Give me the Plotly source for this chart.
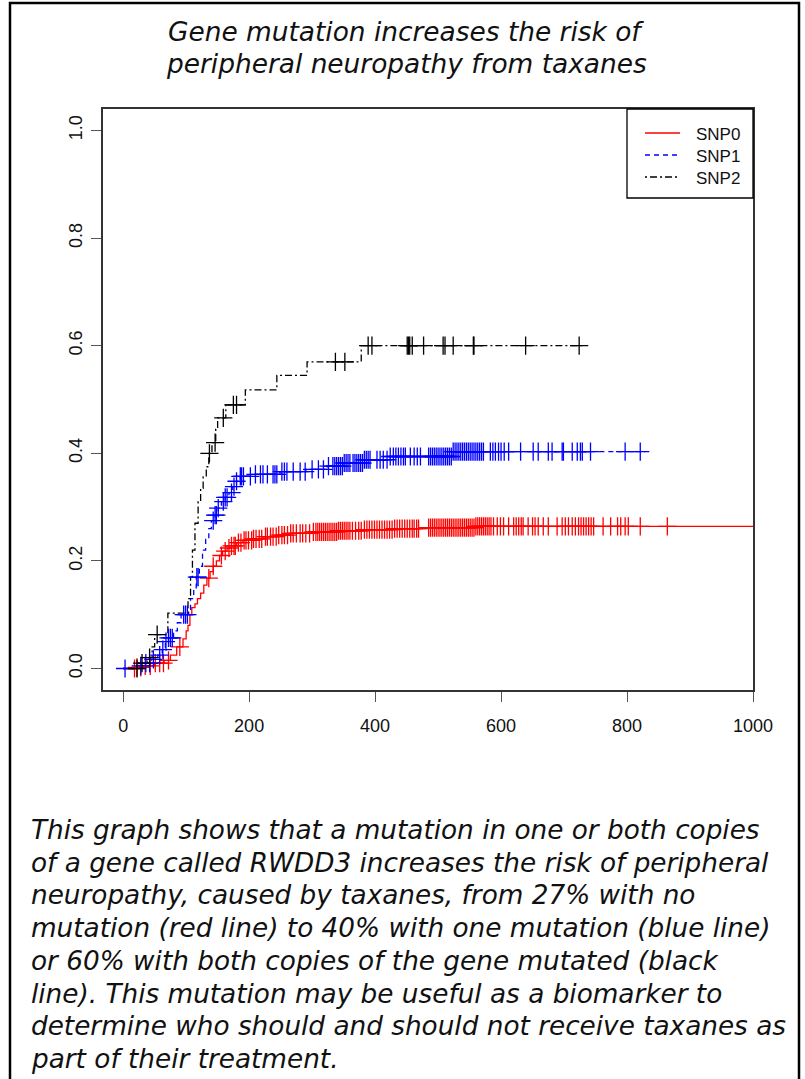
import numpy as np
import plotly.graph_objects as go

# ---------------- data ----------------
title_lines = ["Gene mutation increases the risk of", "peripheral neuropathy from taxanes"]
caption_lines = [
    "This graph shows that a mutation in one or both copies",
    "of a gene called RWDD3 increases the risk of peripheral",
    "neuropathy, caused by taxanes, from 27% with no",
    "mutation (red line) to 40% with one mutation (blue line)",
    "or 60% with both copies of the gene mutated (black",
    "line). This mutation may be useful as a biomarker to",
    "determine who should and should not receive taxanes as",
    "part of their treatment.",
]
series_names = ["SNP0", "SNP1", "SNP2"]

# cumulative incidence step functions (time, value)
snp0_t = [0, 20, 35, 50, 65, 75, 85, 95, 100, 103, 106, 109, 114, 118, 123, 128, 133, 138, 143,
          148, 153, 158, 165, 172, 180, 190, 205, 222, 245, 265, 300, 340, 380, 430, 470, 560, 1000]
snp0_v = [0, 0.002, 0.005, 0.01, 0.015, 0.025, 0.04, 0.055, 0.07, 0.08, 0.10, 0.113, 0.12, 0.13,
          0.14, 0.155, 0.168, 0.18, 0.19, 0.20, 0.21, 0.218, 0.224, 0.228, 0.234, 0.238, 0.241,
          0.245, 0.248, 0.251, 0.254, 0.256, 0.258, 0.26, 0.262, 0.264, 0.264]
snp0_cens = [18, 22, 28, 35, 43, 51, 58, 64, 72, 90, 136, 143, 156, 162, 168, 172, 176, 178, 183, 187,
             192, 195, 199, 204, 207, 211, 216, 220, 226, 229, 234, 238, 243, 247, 252, 256, 261,
             266, 270, 275, 281, 285, 290, 296, 302, 306, 309, 312, 315, 318, 321, 324, 327, 330,
             333, 336, 339, 342, 345, 348, 351, 354, 357, 360, 364, 369, 374, 378, 383, 387, 391,
             395, 399, 403, 407, 411, 415, 419, 423, 427, 431, 435, 439, 443, 447, 451, 455, 459,
             462, 466, 469, 485, 488, 491, 494, 497, 500, 503, 506, 509, 512, 515, 518, 521, 524,
             527, 530, 533, 536, 539, 542, 545, 548, 551, 554, 557, 560, 563, 566, 569, 572, 575,
             578, 581, 584, 588, 594, 599, 604, 612, 620, 624, 628, 632, 635, 643, 650, 654, 659,
             667, 675, 689, 697, 702, 707, 713, 718, 723, 727, 731, 735, 739, 743, 747, 762, 774,
             785, 790, 797, 802, 821, 864]

snp1_t = [0, 25, 35, 45, 55, 62, 67, 72, 80, 86, 92, 104, 107, 112, 116, 121, 126, 131, 136, 140,
          146, 151, 156, 162, 168, 174, 180, 186, 210, 249, 290, 324, 349, 381, 424, 524, 829]
snp1_v = [0, 0.005, 0.01, 0.017, 0.025, 0.035, 0.05, 0.057, 0.07, 0.085, 0.10, 0.11, 0.13, 0.15,
          0.17, 0.19, 0.22, 0.24, 0.26, 0.275, 0.285, 0.298, 0.31, 0.318, 0.327, 0.338, 0.348,
          0.357, 0.361, 0.366, 0.37, 0.376, 0.382, 0.388, 0.394, 0.403, 0.403]
snp1_cens = [3, 28, 36, 42, 48, 58, 63, 68, 72, 75, 78, 96, 99, 102, 117, 119, 143, 146, 148, 151,
             159, 162, 165, 172, 176, 180, 186, 188, 191, 202, 210, 218, 222, 229, 238, 241, 244,
             252, 256, 260, 270, 281, 289, 300, 310, 318, 326, 333, 336, 339, 342, 345, 348, 351,
             354, 357, 360, 365, 368, 371, 374, 377, 380, 383, 386, 389, 392, 403, 408, 413, 419,
             424, 429, 433, 437, 441, 445, 448, 456, 462, 467, 472, 485, 488, 491, 494, 497, 500,
             503, 506, 509, 512, 515, 518, 521, 524, 527, 530, 533, 536, 539, 542, 545, 548, 551,
             554, 557, 560, 563, 566, 569, 572, 583, 587, 591, 596, 600, 605, 612, 631, 651, 659,
             675, 681, 697, 699, 713, 721, 726, 729, 742, 797, 821]

snp2_t = [0, 25, 38, 46, 50, 71, 103, 107, 110, 114, 119, 123, 127, 132, 136, 141, 147, 150, 163,
          194, 244, 292, 378, 734]
snp2_v = [0, 0.01, 0.02, 0.04, 0.063, 0.103, 0.13, 0.17, 0.22, 0.27, 0.31, 0.335, 0.356, 0.375,
          0.40, 0.42, 0.445, 0.466, 0.49, 0.518, 0.545, 0.57, 0.60, 0.60]
snp2_cens = [22, 30, 42, 54, 137, 146, 159, 175, 180, 337, 352, 389, 395, 451, 453, 455, 459, 477,
             508, 511, 524, 556, 557, 639, 724]

x_ticks = [0, 200, 400, 600, 800, 1000]
y_ticks = [0.0, 0.2, 0.4, 0.6, 0.8, 1.0]

# ---------------- figure ----------------
W, H = 805, 1079
ML, MR, MT, MB = 103, 52, 109, 389
PW, PH = W - ML - MR, H - MT - MB


def px_to_paper_x(px):
    return (px - ML) / PW


def px_to_paper_y(py):
    return (H - MB - py) / PH


series = [
    (series_names[0], snp0_t, snp0_v, snp0_cens, "#FF0000", "solid"),
    (series_names[1], snp1_t, snp1_v, snp1_cens, "#0000FF", "5px,4px"),
    (series_names[2], snp2_t, snp2_v, snp2_cens, "#000000", "2px,3px,7px,3px"),
]

fig = go.Figure()
for name, t, v, cens, col, dash in series:
    fig.add_trace(go.Scatter(
        x=t, y=v, mode="lines", name=name, line=dict(color=col, width=1.3, dash=dash, shape="hv"),
        showlegend=False))
for name, t, v, cens, col, dash in series:
    ta = np.array(t, dtype=float)
    va = np.array(v, dtype=float)
    idx = np.searchsorted(ta, np.array(cens, dtype=float), side="right") - 1
    fig.add_trace(go.Scatter(
        x=cens, y=va[idx], mode="markers", name=name + " censored", showlegend=False,
        hoverinfo="skip",
        marker=dict(symbol="cross-thin", size=13, color=col, line=dict(color=col, width=1.3))))

tick_font = dict(family="Liberation Sans, Arial", size=18, color="#111111")
fig.update_xaxes(range=[-32, 1000], tickvals=x_ticks, ticks="outside", ticklen=10, tickwidth=1.3,
                 tickcolor="#555555", showline=True, linecolor="#333333", linewidth=1.5, mirror=True,
                 showgrid=False, zeroline=False, tickfont=tick_font, ticklabelstandoff=9)
fig.update_yaxes(range=[-0.04, 1.04], tickvals=y_ticks, tickformat=".1f", ticks="outside", ticklen=10,
                 tickwidth=1.3, tickcolor="#555555", showline=True, linecolor="#333333", linewidth=1.5,
                 mirror=True, showgrid=False, zeroline=False, tickfont=tick_font, tickangle=-90,
                 ticklabelstandoff=2)

text_family = "DejaVu Sans"
annotations = []
for i, line in enumerate(title_lines):
    annotations.append(dict(
        text=line, xref="paper", yref="paper", x=px_to_paper_x(406), y=px_to_paper_y(31 + 33 * i),
        xanchor="center", yanchor="middle", showarrow=False,
        font=dict(family=text_family, size=26.4, color="#111111", style="italic")))
for i, line in enumerate(caption_lines):
    annotations.append(dict(
        text=line, xref="paper", yref="paper", x=px_to_paper_x(29), y=px_to_paper_y(830 + 32.7 * i),
        xanchor="left", yanchor="middle", showarrow=False,
        font=dict(family=text_family, size=26.3, color="#111111", style="italic")))

shapes = [dict(type="rect", xref="paper", yref="paper",
               x0=px_to_paper_x(10), x1=px_to_paper_x(799), y0=px_to_paper_y(1090), y1=px_to_paper_y(3),
               line=dict(color="#000000", width=2.5), fillcolor="rgba(0,0,0,0)", layer="below")]

# legend box (R style)
shapes.append(dict(type="rect", xref="paper", yref="paper",
                   x0=px_to_paper_x(627), x1=1, y0=px_to_paper_y(198), y1=1,
                   line=dict(color="#000000", width=1.3), fillcolor="white", layer="above"))
legend_rows = [133, 155, 177]
for (name, t, v, cens, col, dash), ry in zip(series, legend_rows):
    shapes.append(dict(type="line", xref="paper", yref="paper",
                       x0=px_to_paper_x(645), x1=px_to_paper_x(680),
                       y0=px_to_paper_y(ry), y1=px_to_paper_y(ry),
                       line=dict(color=col, width=1.3, dash=dash), layer="above"))
    annotations.append(dict(
        text=name, xref="paper", yref="paper", x=px_to_paper_x(694), y=px_to_paper_y(ry + 1),
        xanchor="left", yanchor="middle", showarrow=False,
        font=dict(family="Liberation Sans, Arial", size=17, color="#111111")))

fig.update_layout(
    width=W, height=H, margin=dict(l=ML, r=MR, t=MT, b=MB, autoexpand=False),
    paper_bgcolor="white", plot_bgcolor="white",
    annotations=annotations, shapes=shapes, showlegend=False,
)

fig.write_html("out.html", config={"displayModeBar": False},
               post_script="document.body.style.margin='0';document.body.style.overflow='hidden';")
